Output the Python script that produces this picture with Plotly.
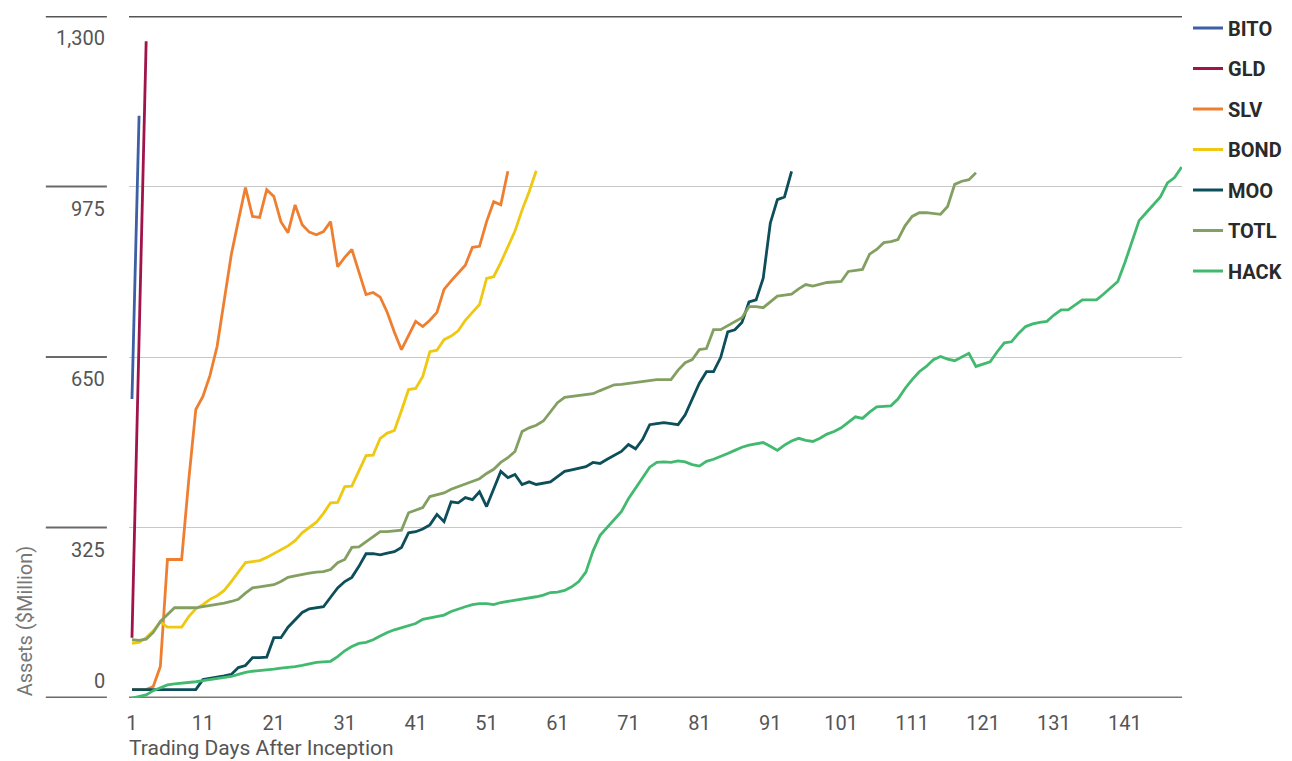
import plotly.graph_objects as go

# ---------------- data (assets in $ million by trading day after inception) ----------------
BITO = [570, 1110]
GLD = [115, 690, 1252]
SLV = [16, 16, 16, 22, 60, 264, 264, 264, 415, 550, 575, 615, 670, 760, 845, 910, 973, 918, 916,
       969, 956, 908, 887, 940, 902, 888, 883, 889, 908, 822, 840, 855, 810, 769, 773, 764, 735,
       697, 664, 690, 718, 708, 720, 735, 779, 795, 810, 825, 859, 861, 908, 946, 940, 1004]
BOND = [104, 106, 115, 128, 145, 135, 135, 135, 155, 170, 178, 188, 195, 205, 222, 240, 258, 260,
        262, 268, 275, 282, 290, 300, 315, 325, 335, 352, 372, 373, 403, 404, 432, 462, 463, 495,
        505, 510, 548, 588, 590, 613, 660, 663, 683, 690, 700, 720, 735, 750, 800, 803, 830, 860,
        890, 930, 965, 1005]
MOO = [16, 16, 16, 16, 16, 16, 16, 16, 16, 16, 35, 37, 39, 42, 45, 58, 62, 77, 77, 78, 115, 115,
       135, 150, 163, 170, 172, 174, 192, 210, 222, 230, 251, 275, 275, 273, 276, 279, 287, 315,
       317, 322, 330, 350, 336, 374, 372, 382, 378, 393, 365, 397, 432, 420, 426, 407, 412, 407,
       410, 412, 422, 432, 435, 438, 441, 449, 447, 455, 462, 470, 483, 475, 493, 521, 523, 525,
       523, 521, 540, 569, 600, 622, 622, 649, 698, 702, 716, 755, 759, 800, 905, 950, 955, 1004]
TOTL = [111, 110, 112, 125, 146, 160, 172, 172, 172, 172, 174, 176, 178, 181, 184, 188, 200, 210,
        212, 214, 216, 222, 230, 233, 236, 238, 240, 241, 245, 258, 264, 287, 288, 298, 308, 317,
        317, 318, 320, 353, 358, 363, 384, 388, 391, 398, 403, 407, 412, 418, 428, 436, 449, 458,
        470, 508, 515, 520, 528, 545, 563, 573, 575, 576, 578, 580, 586, 592, 597, 598, 600, 601,
        603, 606, 607, 607, 607, 625, 639, 645, 664, 666, 702, 702, 710, 717, 725, 746, 746, 744,
        755, 766, 768, 770, 780, 788, 785, 788, 792, 793, 794, 813, 815, 817, 846, 855, 868, 870,
        874, 900, 918, 925, 925, 923, 922, 937, 979, 985, 988, 1001]
HACK = [0, 3, 6, 14, 20, 25, 27, 28, 29, 31, 33, 35, 37, 39, 41, 45, 49, 51, 52, 54, 55, 57, 58,
        60, 62, 65, 68, 69, 70, 79, 90, 98, 104, 106, 111, 118, 125, 130, 134, 138, 142, 150, 153,
        155, 158, 165, 170, 174, 178, 180, 180, 178, 182, 184, 186, 188, 190, 193, 196, 201, 202,
        205, 212, 222, 240, 280, 310, 325, 340, 355, 380, 400, 420, 440, 449, 450, 449, 452, 450,
        445, 442, 451, 455, 460, 466, 472, 478, 482, 485, 487, 480, 472, 482, 490, 495, 491, 489,
        495, 503, 508, 515, 525, 536, 533, 545, 555, 556, 557, 570, 590, 607, 622, 632, 645, 651,
        646, 643, 650, 657, 632, 637, 641, 660, 677, 679, 695, 708, 713, 716, 718, 730, 740, 740,
        750, 759, 759, 759, 770, 782, 794, 830, 868, 910, 925, 940, 955, 982, 992, 1012]

SERIES_NAMES = ["BITO", "GLD", "SLV", "BOND", "MOO", "TOTL", "HACK"]
SERIES_VALUES = [BITO, GLD, SLV, BOND, MOO, TOTL, HACK]
SERIES_COLORS = ["#3d5fa6", "#a0144a", "#ef7f30", "#efc812", "#0c4e5a", "#83a062", "#41b96e"]

X_TICKS = list(range(1, 142, 10))
X_TICK_LABELS = [str(v) for v in X_TICKS]
Y_TICKS = [0, 325, 650, 975, 1300]
Y_TICK_LABELS = ["0", "325", "650", "975", "1,300"]

FONT = "Roboto, sans-serif"

fig = go.Figure()
for name, vals, col in zip(SERIES_NAMES, SERIES_VALUES, SERIES_COLORS):
    fig.add_trace(go.Scatter(
        x=list(range(1, len(vals) + 1)), y=vals, mode="lines", name=name,
        legendgroup=name, line=dict(color=col, width=2.8),
    ))

shapes = []
# full-width top and bottom rules
shapes.append(dict(type="line", xref="paper", yref="y", x0=0, x1=1, y0=1300, y1=1300,
                   line=dict(color="#555555", width=3), layer="below"))
shapes.append(dict(type="line", xref="paper", yref="y", x0=0, x1=1, y0=0, y1=0,
                   line=dict(color="#7a7a7a", width=3), layer="below"))
# short rules to the left of the plot, at each tick
for v in Y_TICKS:
    w = 3 if v in (0, 1300) else 2
    c = "#555555" if v == 1300 else "#6a6a6a"
    shapes.append(dict(type="line", xref="paper", yref="y", x0=-0.079, x1=-0.021, y0=v, y1=v,
                       line=dict(color=c, width=w), layer="below"))

annotations = []
for v, lab in zip(Y_TICKS, Y_TICK_LABELS):
    annotations.append(dict(xref="paper", yref="y", x=-0.021, y=v, text=lab, showarrow=False,
                            xanchor="right", yanchor="middle", yshift=17 if v == 0 else -22,
                            font=dict(family=FONT, size=20, color="#555555")))
annotations.append(dict(xref="paper", yref="y", x=-0.099, y=0, text="Assets ($Million)",
                        showarrow=False, textangle=-90, xanchor="center", yanchor="bottom",
                        font=dict(family=FONT, size=20, color="#777777")))
annotations.append(dict(xref="paper", yref="paper", x=-0.002, y=0, yshift=-50,
                        text="Trading Days After Inception", showarrow=False,
                        xanchor="left", yanchor="middle",
                        font=dict(family=FONT, size=21, color="#555555")))

fig.update_layout(
    width=1292, height=761,
    margin=dict(l=129, r=110, t=16, b=63, autoexpand=False),
    paper_bgcolor="white", plot_bgcolor="white",
    font=dict(family=FONT, color="#555555"),
    showlegend=True,
    legend=dict(x=1.0057, y=1.011, xanchor="left", yanchor="top", tracegroupgap=11.5,
                font=dict(family=FONT, size=20, color="#2a2a2a", weight="bold"),
                bgcolor="rgba(0,0,0,0)", itemwidth=30),
    shapes=shapes, annotations=annotations,
    xaxis=dict(range=[0.58, 149.05], tickvals=X_TICKS, ticktext=X_TICK_LABELS,
               showgrid=False, zeroline=False, showline=False, ticks="",
               ticklabelstandoff=11,
               tickfont=dict(family=FONT, size=20, color="#555555")),
    yaxis=dict(range=[0, 1300], tickvals=[325, 650, 975], showticklabels=False,
               showgrid=True, gridcolor="#c8c8c8", gridwidth=1, zeroline=False,
               showline=False, ticks=""),
)

fig.write_html("out.html")
